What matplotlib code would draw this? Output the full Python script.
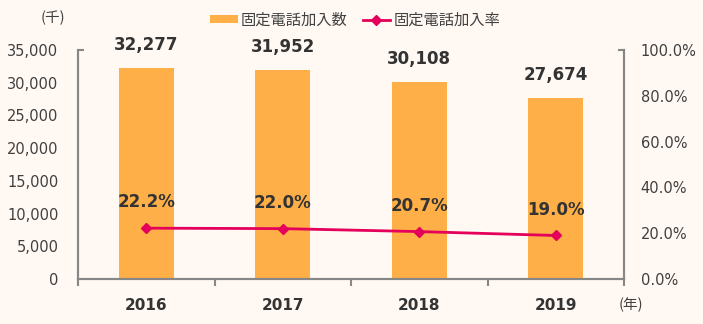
import matplotlib.pyplot as plt
import matplotlib.ticker as mticker

plt.rcParams['font.family'] = ['DejaVu Sans', 'Noto Sans CJK JP']

years = ['2016', '2017', '2018', '2019']
subscribers = [32277, 31952, 30108, 27674]
rates = [22.2, 22.0, 20.7, 19.0]

bg = '#FFF8F3'
bar_color = '#FFAF47'
line_color = '#E4005A'
spine_color = '#878787'
text_color = '#333333'
cjk = ['Noto Sans CJK JP', 'DejaVu Sans']

fig = plt.figure(figsize=(7.03, 3.24), dpi=100, facecolor=bg)
ax = fig.add_axes([78 / 703, 1 - 279 / 324, 546 / 703, 229 / 324])
ax.set_facecolor(bg)
ax2 = ax.twinx()

x = list(range(len(years)))
ax.bar(x, subscribers, width=0.4, color=bar_color, zorder=2,
       label='固定電話加入数')
ax2.plot(x, rates, color=line_color, lw=2, marker='D', ms=5,
         label='固定電話加入率', zorder=3)

ax.set_xlim(-0.5, 3.5)
ax.set_ylim(0, 35000)
ax2.set_ylim(0, 100)

ax.set_yticks(range(0, 35001, 5000))
ax.yaxis.set_major_formatter(mticker.FuncFormatter(lambda v, p: f'{int(v):,}'))
ax2.set_yticks(range(0, 101, 20))
ax2.yaxis.set_major_formatter(mticker.FuncFormatter(lambda v, p: f'{v:.1f}%'))

ax.set_xticks(x)
ax.set_xticklabels(years, fontsize=11, fontweight='bold', color=text_color)
ax.tick_params(axis='x', which='major', length=0, pad=14)
ax.set_xticks([-0.5, 0.5, 1.5, 2.5, 3.5], minor=True)
ax.tick_params(axis='x', which='minor', length=5, width=1.5,
               color=spine_color, direction='out')

ax.tick_params(axis='y', length=4, width=1.5, direction='in',
               color=spine_color, labelsize=10.5, labelcolor='#404040', pad=14)
ax2.tick_params(axis='y', length=4, width=1.5, direction='in',
                color=spine_color, labelsize=10.5, labelcolor='#404040', pad=12)
# only keep the small cap at the top of each y spine
for a in (ax, ax2):
    lines = a.yaxis.get_ticklines()
    for i, t in enumerate(lines):
        if i < len(lines) - 2:
            t.set_visible(False)

for a in (ax, ax2):
    a.spines['top'].set_visible(False)
    for s in ('left', 'right', 'bottom'):
        a.spines[s].set_color(spine_color)
        a.spines[s].set_linewidth(1.5)

for xi, v in zip(x, subscribers):
    ax.annotate(f'{v:,}', (xi, v), xytext=(0, 10), textcoords='offset points',
                ha='center', va='bottom', fontsize=12, fontweight='bold',
                color=text_color)
for xi, r in zip(x, rates):
    ax2.annotate(f'{r:.1f}%', (xi, r), xytext=(0, 12), textcoords='offset points',
                 ha='center', va='bottom', fontsize=12, fontweight='bold',
                 color=text_color)

fig.text(53 / 703, 1 - 18 / 324, '(千)', ha='center', va='center',
         fontsize=10.5, color='#404040', family=cjk)
fig.text(631 / 703, 1 - 305 / 324, '(年)', ha='center', va='center',
         fontsize=10.5, color='#404040', family=cjk)

h1, l1 = ax.get_legend_handles_labels()
h2, l2 = ax2.get_legend_handles_labels()
leg = fig.legend(h1 + h2, l1 + l2, loc='center', bbox_to_anchor=(355 / 703, 1 - 20 / 324),
                 ncol=2, frameon=False, handlelength=1.8, handleheight=0.5,
                 columnspacing=1.0, handletextpad=0.2,
                 prop={'family': cjk, 'size': 11})
for t in leg.get_texts():
    t.set_color('#404040')

fig.savefig('out.png', dpi=100, facecolor=bg)
